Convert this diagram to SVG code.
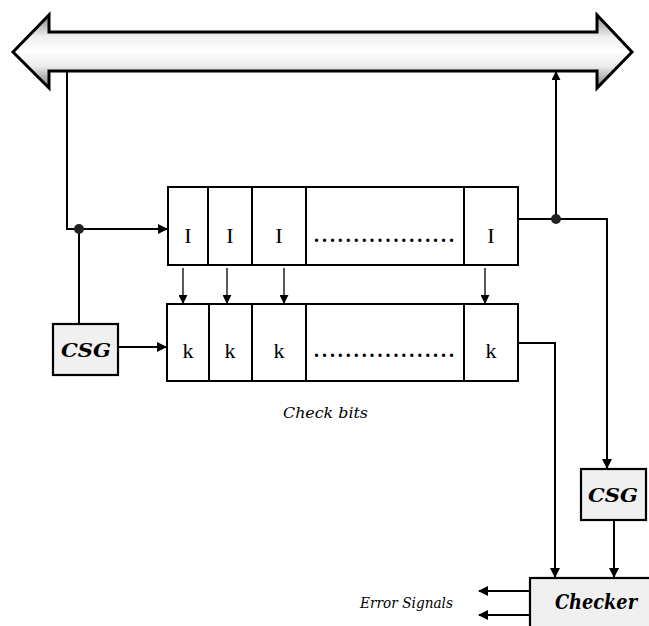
<svg xmlns="http://www.w3.org/2000/svg" width="649" height="626" viewBox="0 0 649 626">
<defs>
<linearGradient id="busg" x1="0" y1="0" x2="0" y2="1">
<stop offset="0" stop-color="#8a8a8a"/>
<stop offset="0.3" stop-color="#f0f0f0"/>
<stop offset="0.5" stop-color="#ffffff"/>
<stop offset="0.7" stop-color="#ececec"/>
<stop offset="1" stop-color="#7a7a7a"/>
</linearGradient>
<marker id="ah" viewBox="0 0 10 10" refX="9" refY="5" markerWidth="10" markerHeight="10" markerUnits="userSpaceOnUse" orient="auto">
<path d="M0,0 L10,5 L0,10 z" fill="#000"/>
</marker>
<marker id="ahs" viewBox="0 0 10 10" refX="9" refY="5" markerWidth="9" markerHeight="9" markerUnits="userSpaceOnUse" orient="auto">
<path d="M0,0 L10,5 L0,10 z" fill="#000"/>
</marker>
</defs>
<style>
.ln{fill:none;stroke:#000;stroke-width:2}
.thin{fill:none;stroke:#000;stroke-width:1.3}
.cell{fill:#fff;stroke:#000;stroke-width:2}
.box{fill:#f0f0f0;stroke:#000;stroke-width:2.2}
.lt{font-family:"Liberation Serif","DejaVu Serif",serif;font-size:22px;text-anchor:middle}
.dots{font-family:"Liberation Serif","DejaVu Serif",serif;font-size:20px;font-weight:bold}
.bt{font-family:"DejaVu Serif","Liberation Serif",serif;font-size:19px;font-weight:bold;font-style:italic;text-anchor:middle}
.it{font-family:"DejaVu Serif","Liberation Serif",serif;font-size:15px;font-style:italic}
</style>
<rect width="649" height="626" fill="#fff"/>
<g id="bus">
<path d="M13,52 L49,15 L49,32 L597,32 L597,15 L632,52 L597,88 L597,71 L49,71 L49,88 Z" fill="url(#busg)" stroke="#000" stroke-width="3" stroke-linejoin="miter"/>
</g>
<g id="register-I">
<rect class="cell" x="168" y="187" width="350" height="78"/>
<line class="ln" x1="208" y1="187" x2="208" y2="265"/>
<line class="ln" x1="252" y1="187" x2="252" y2="265"/>
<line class="ln" x1="306" y1="187" x2="306" y2="265"/>
<line class="ln" x1="464" y1="187" x2="464" y2="265"/>
<text class="lt" x="188" y="243">I</text>
<text class="lt" x="230" y="243">I</text>
<text class="lt" x="279" y="243">I</text>
<text class="dots" x="314" y="242" textLength="140" lengthAdjust="spacing">..................</text>
<text class="lt" x="491" y="243">I</text>
</g>
<g id="register-k">
<rect class="cell" x="167" y="304" width="351" height="77"/>
<line class="ln" x1="209" y1="304" x2="209" y2="381"/>
<line class="ln" x1="252" y1="304" x2="252" y2="381"/>
<line class="ln" x1="306" y1="304" x2="306" y2="381"/>
<line class="ln" x1="464" y1="304" x2="464" y2="381"/>
<text class="lt" x="188" y="358">k</text>
<text class="lt" x="230" y="358">k</text>
<text class="lt" x="279" y="358">k</text>
<text class="dots" x="314" y="357" textLength="140" lengthAdjust="spacing">..................</text>
<text class="lt" x="491" y="358">k</text>
</g>
<g id="csg-left">
<rect class="box" x="53" y="324" width="65" height="51"/>
<text class="bt" x="86" y="357" textLength="50" lengthAdjust="spacingAndGlyphs">CSG</text>
</g>
<g id="csg-right">
<rect class="box" x="581" y="469" width="65" height="51"/>
<text class="bt" x="613" y="502" textLength="50" lengthAdjust="spacingAndGlyphs">CSG</text>
</g>
<g id="checker">
<rect class="box" x="530" y="578" width="130" height="60"/>
<text class="bt" x="596" y="609" style="font-size:21px" textLength="82" lengthAdjust="spacingAndGlyphs">Checker</text>
</g>
<g id="labels">
<text class="it" x="283" y="418" textLength="85" lengthAdjust="spacingAndGlyphs">Check bits</text>
<text class="it" x="360" y="608" textLength="93" lengthAdjust="spacingAndGlyphs">Error Signals</text>
</g>
<g id="connectors">
<polyline class="ln" points="67,72 67,229 167,229" marker-end="url(#ah)"/>
<line class="ln" x1="79" y1="229" x2="79" y2="324"/>
<circle cx="79" cy="229" r="5" fill="#222"/>
<line class="ln" x1="118" y1="347" x2="166" y2="347" marker-end="url(#ah)"/>
<line class="thin" x1="183" y1="268" x2="183" y2="303" marker-end="url(#ahs)"/>
<line class="thin" x1="227" y1="268" x2="227" y2="303" marker-end="url(#ahs)"/>
<line class="thin" x1="284" y1="268" x2="284" y2="303" marker-end="url(#ahs)"/>
<line class="thin" x1="485" y1="268" x2="485" y2="303" marker-end="url(#ahs)"/>
<polyline class="ln" points="518,219 607,219 607,468" marker-end="url(#ah)"/>
<line class="ln" x1="556" y1="219" x2="556" y2="72" marker-end="url(#ahs)"/>
<circle cx="556" cy="219" r="5" fill="#222"/>
<polyline class="ln" points="518,343 555,343 555,577" marker-end="url(#ah)"/>
<line class="ln" x1="614" y1="520" x2="614" y2="577" marker-end="url(#ah)"/>
<line class="ln" x1="530" y1="591" x2="479" y2="591" marker-end="url(#ah)"/>
<line class="ln" x1="530" y1="615" x2="479" y2="615" marker-end="url(#ah)"/>
</g>
</svg>
